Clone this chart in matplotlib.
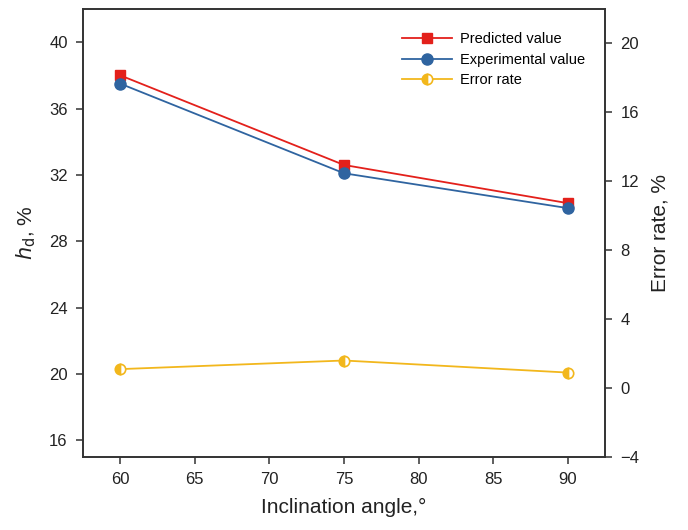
import matplotlib.pyplot as plt

plt.rcParams['font.family'] = ['Liberation Sans', 'DejaVu Sans']

# data
angles = [60, 75, 90]
predicted = [38.0, 32.6, 30.3]
experimental = [37.5, 32.1, 30.0]
error_rate = [1.1, 1.6, 0.9]

red = "#E3201B"
blue = "#2F64A0"
yellow = "#F2B71C"
spine = "#333333"

fig = plt.figure(figsize=(6.88, 5.30), dpi=100)
ax = fig.add_axes([83 / 688, 1 - 457 / 530, (605 - 83) / 688, (457 - 9) / 530])
ax2 = ax.twinx()

l1, = ax.plot(angles, predicted, color=red, lw=1.3, marker="s", ms=7,
              label="Predicted value", zorder=3)
l2, = ax.plot(angles, experimental, color=blue, lw=1.3, marker="o", ms=8,
              label="Experimental value", zorder=3)
l3, = ax2.plot(angles, error_rate, color=yellow, lw=1.3, marker="o", ms=7.5,
               fillstyle="left", markerfacecoloralt="white",
               markeredgecolor=yellow, markeredgewidth=1.2, label="Error rate")

ax.set_xlim(57.5, 92.5)
ax.set_ylim(15, 42)
ax2.set_ylim(-4, 22)
ax.set_xticks([60, 65, 70, 75, 80, 85, 90])
ax.set_yticks([16, 20, 24, 28, 32, 36, 40])
ax2.set_yticks([-4, 0, 4, 8, 12, 16, 20])

for a in (ax, ax2):
    for s in a.spines.values():
        s.set_color(spine)
        s.set_linewidth(1.2)
    a.tick_params(direction="out", length=5, width=1.1, color=spine,
                  labelsize=12, labelcolor="#222222", pad=6)

ax.set_xlabel("Inclination angle,°", fontsize=15, labelpad=8, color="#222222")
ax.set_ylabel(r"$h_\mathrm{d}$, %", fontsize=15, labelpad=8, color="#222222")
ax2.set_ylabel("Error rate, %", fontsize=15, labelpad=8, color="#222222")

ax.legend(handles=[l1, l2, l3], loc="upper left", bbox_to_anchor=(0.611, 0.948),
          borderaxespad=0, borderpad=0, frameon=False, fontsize=10.5,
          handlelength=3.4, handletextpad=0.55, labelspacing=0.45)

fig.savefig("out.png", dpi=100)
